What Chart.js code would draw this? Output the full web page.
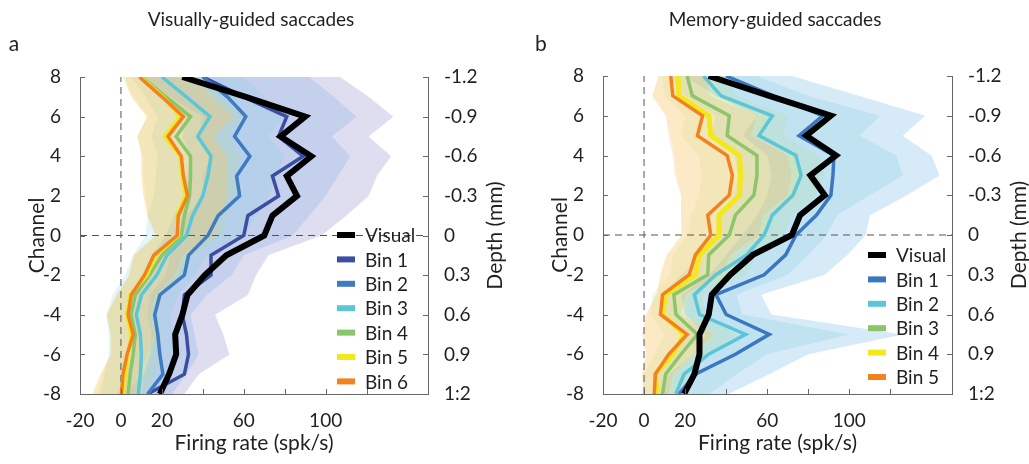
<!DOCTYPE html>
<html>
<head>
  <title>Firing rate by channel</title>
  <script src="https://cdn.jsdelivr.net/npm/chart.js"></script>
  <style>
    body { margin: 0; background: #fff; }
    .row { display: flex; width: 1029px; height: 464px; }
  </style>
</head>
<body>
  <div class="row">
    <canvas id="chartA" width="514" height="464"></canvas>
    <canvas id="chartB" width="515" height="464"></canvas>
  </div>

  <script>
    // channels top to bottom, shared by both panels
    const channels = [8, 7, 6, 5, 4, 3, 2, 1, 0, -1, -2, -3, -4, -5, -6, -7, -8];
    const xTickLabels = [-20, 0, 20, 60, 100, 140];
    const depthLabels = ['-1.2', '-0.9', '-0.6', '-0.3', '0', '0.3', '0.6', '0.9', '1:2'];

    // panel a: visually-guided saccades (spk/s)
    const visualA = [30, 61, 90, 78, 93, 81, 86, 74, 70, 51.5, 41, 32.5, 30, 26.5, 27, 23.5, 19];
    const bin1A = [40, 60, 81, 77, 89, 74, 77, 62, 60, 44, 44, 31, 30, 32, 33, 31, 13];
    const bin2A = [40, 52, 61, 55.5, 63, 56.5, 58, 47.5, 42.5, 33, 31, 19, 16.5, 18, 19, 20.5, 13];
    const bin3A = [20, 32, 43.5, 37.5, 44, 42.5, 40, 35, 32, 22.5, 17.5, 10, 7.5, 9.5, 10, 9.5, 8.5];
    const bin4A = [10, 22, 34, 27, 34, 34, 33.5, 31, 29.5, 20, 14, 7, 5, 7, 6, 4.5, 3.5];
    const bin5A = [9.5, 20.5, 29, 21.5, 29, 30, 31.5, 27.5, 28, 17, 12.5, 4.5, 3, 5, 3.5, 2, 1];
    const bin6A = [9, 20, 30.5, 23, 29.5, 30.5, 32.5, 28, 27.5, 16, 11.5, 5, 3.5, 6, 3, 1, 0.3];

    const bin1ALo = [10, 24, 40, 38, 44, 40, 40, 32, 30, 24, 22, 14, 13, 15, 14, 11, 2];
    const bin1AHi = [107, 121, 133, 121, 132, 125, 121, 110, 98, 72, 66, 62, 46, 50, 53, 38, 31];
    const bin2ALo = [12, 22, 32, 30, 34, 32, 32, 26, 22, 15, 12, 5, 3, 5, 5, 3, -2];
    const bin2AHi = [92, 104, 115, 103, 112, 106, 100, 92, 84, 60, 54, 42, 34, 36, 38, 32, 25];
    const bin3ALo = [5, 12, 18, 15, 18, 17, 16, 13, 12, 6, 2, -4, -7, -6, -6, -8, -10];
    const bin3AHi = [60, 70, 80, 72, 80, 76, 72, 66, 60, 42, 36, 28, 24, 26, 28, 25, 22];
    const bin4ALo = [2, 6, 13, 8, 11, 11, 12, 13, 17, 7, 4, -2, -7, -5, -5, -9, -12];
    const bin4AHi = [42, 50, 60, 52, 58, 58, 56, 52, 50, 35, 30, 20, 18, 20, 19, 16, 14];
    const bin5ALo = [1, 5, 12, 8, 10, 10, 11, 13, 17, 6, 4, -2, -7, -5, -5, -10, -14];
    const bin5AHi = [36, 45, 55, 45, 52, 52, 52, 48, 46, 32, 28, 18, 15, 17, 15, 12, 10];
    const bin6ALo = [1, 5, 13, 8, 10, 10, 11, 13, 17, 6, 4, -2, -7, -5, -5, -10, -14];
    const bin6AHi = [35, 44, 55, 45, 52, 52, 52, 48, 46, 30, 26, 17, 14, 16, 13, 10, 8];

    // panel b: memory-guided saccades (spk/s)
    const visualB = [31.5, 61, 91, 79, 93.5, 81, 88, 76, 72, 53, 42, 33, 31.5, 27, 27, 24.5, 19.5];
    const bin1B = [40, 63, 87, 75.5, 92.5, 92, 91, 84, 74, 69, 58.5, 35, 40, 61, 44.5, 25, 17];
    const bin2B = [29, 37.5, 62.5, 56, 74, 76.5, 72.5, 62.5, 58.5, 50, 35, 24.5, 27, 49.5, 31.5, 19.5, 15.5];
    const bin3B = [21, 23.5, 41.5, 40.5, 55, 55, 53.5, 44.5, 41.5, 31.5, 31, 14.5, 15.5, 26, 18, 10.5, 9];
    const bin4B = [16.5, 17, 31.5, 32.5, 46.5, 47, 46.5, 36.5, 36.5, 27, 25, 10.5, 9, 19.5, 14, 5.5, 6.5];
    const bin5B = [13, 14, 28.5, 26, 40.5, 43, 41.5, 31, 32.5, 25, 22, 9, 8, 21, 12, 5.5, 5];

    const bin1BLo = [20, 35, 55, 48, 60, 62, 60, 55, 48, 40, 32, 18, 20, 30, 24, 12, 8];
    const bin1BHi = [72, 105, 137, 126, 140, 144, 128, 110, 108, 99, 88, 57, 62, 126, 80, 61, 41];
    const bin2BLo = [12, 20, 35, 32, 44, 46, 44, 38, 35, 28, 18, 9, 11, 22, 14, 6, 4];
    const bin2BHi = [55, 80, 115, 105, 123, 126, 110, 94, 89, 80, 70, 45, 48, 100, 60, 45, 32];
    const bin3BLo = [9, 10, 20, 18, 27, 28, 27, 23, 21, 14, 13, 4, 3, 10, 5, 0, -1];
    const bin3BHi = [40, 45, 70, 68, 85, 88, 84, 72, 68, 55, 50, 28, 30, 45, 32, 22, 18];
    const bin4BLo = [7, 4, 11, 13, 15, 16, 18, 18, 18, 11, 8, 6, 1, 0, 1, -1, 0];
    const bin4BHi = [34, 38, 60, 58, 75, 76, 74, 62, 60, 45, 42, 22, 20, 35, 25, 15, 14];
    const bin5BLo = [7, 4, 10.5, 12, 14, 15, 18, 18, 18.5, 11, 8, 6, 1, -1, 1, -1, 0];
    const bin5BHi = [30, 32, 55, 52, 70, 72, 70, 58, 56, 42, 38, 20, 18, 34, 24, 14, 12];

    const FONT = 'Lato, "Open Sans", sans-serif';
    const INK = '#231f20';
    const AXIS = '#666';

    function toPoints(values) {
      return values.map((v, i) => ({ x: v, y: channels[i] }));
    }

    function lineSet(label, values, color, width, order) {
      return {
        label: label, data: toPoints(values), showLine: true,
        borderColor: color, backgroundColor: color, borderWidth: width,
        pointRadius: 0, fill: false, order: order, inLegend: true
      };
    }

    // closed shape: lower edge down the channels, upper edge back up
    function bandSet(lo, hi, color, order) {
      const pts = toPoints(lo).concat(toPoints(hi).reverse());
      return {
        data: pts, showLine: true, fill: 'shape', backgroundColor: color,
        borderColor: 'rgba(0,0,0,0)', borderWidth: 0, pointRadius: 0, order: order
      };
    }

    function refLines() {
      return [
        { data: [{ x: 0, y: -8 }, { x: 0, y: 8 }], showLine: true, borderColor: '#555',
          borderWidth: 1, borderDash: [7, 5], pointRadius: 0, order: 9 },
        { data: [{ x: -20, y: 0 }, { x: 150, y: 0 }], showLine: true, borderColor: '#555',
          borderWidth: 1, borderDash: [7, 5], pointRadius: 0, order: 9 }
      ];
    }

    const decor = {
      id: 'decor',
      afterDraw(chart, args, opts) {
        const ctx = chart.ctx;
        const a = chart.chartArea;
        const sx = chart.scales.x, sy = chart.scales.y;
        ctx.save();
        // inward tick marks
        ctx.strokeStyle = AXIS;
        ctx.lineWidth = 1;
        ctx.beginPath();
        sx.ticks.forEach(t => {
          const p = Math.round(sx.getPixelForValue(t.value)) + 0.5;
          ctx.moveTo(p, a.bottom); ctx.lineTo(p, a.bottom - 5);
        });
        sy.ticks.forEach(t => {
          const p = Math.round(sy.getPixelForValue(t.value)) + 0.5;
          ctx.moveTo(a.left, p); ctx.lineTo(a.left + 5, p);
          ctx.moveTo(a.right, p); ctx.lineTo(a.right - 5, p);
        });
        ctx.stroke();

        ctx.fillStyle = INK;
        ctx.textBaseline = 'middle';
        // panel title and letter
        ctx.textAlign = 'center';
        ctx.font = '19px ' + FONT;
        ctx.fillText(opts.title, opts.titleX, 20);
        ctx.font = '21px ' + FONT;
        ctx.fillText(opts.letter, opts.letterX, 44);
        // axis titles
        ctx.font = '21px ' + FONT;
        ctx.fillText('Firing rate (spk/s)', (a.left + a.right) / 2, 443);
        const midY = (a.top + a.bottom) / 2;
        ctx.save();
        ctx.translate(a.left - 43, midY);
        ctx.rotate(-Math.PI / 2);
        ctx.fillText('Channel', 0, 0);
        ctx.restore();
        ctx.save();
        ctx.translate(a.right + 67, midY);
        ctx.rotate(-Math.PI / 2);
        ctx.fillText('Depth (mm)', 0, 0);
        ctx.restore();

        // legend inside the plot
        ctx.textAlign = 'left';
        ctx.font = '19px ' + FONT;
        let y = opts.legendTop;
        chart.data.datasets.filter(d => d.inLegend).forEach(d => {
          ctx.fillStyle = d.borderColor;
          ctx.fillRect(opts.legendLeft, y - 3, 18, 6);
          ctx.fillStyle = INK;
          ctx.fillText(d.label, opts.legendLeft + 28, y + 1);
          y += 24.4;
        });
        ctx.restore();
      }
    };

    function makePanel(id, datasets, yWidth, y2Width, top, opts) {
      const tickFont = { family: FONT, size: 19 };
      return new Chart(document.getElementById(id), {
        type: 'scatter',
        data: { datasets: datasets },
        options: {
          responsive: false,
          animation: false,
          layout: { padding: { top: top, left: 0, right: 0, bottom: 0 } },
          plugins: { legend: { display: false }, tooltip: { enabled: false }, decor: opts },
          scales: {
            x: {
              type: 'linear', min: -20, max: 150,
              grid: { display: false }, border: { display: true, color: AXIS, width: 1 },
              ticks: {
                stepSize: 20, padding: 7, color: INK, font: tickFont, maxRotation: 0,
                autoSkip: false,
                callback: v => xTickLabels.includes(v) ? String(v) : ''
              },
              afterBuildTicks: s => { s.ticks = s.ticks.filter(t => t.value % 20 === 0); },
              afterFit: s => { s.height = 70; }
            },
            y: {
              type: 'linear', position: 'left', min: -8, max: 8,
              grid: { display: false }, border: { display: true, color: AXIS, width: 1 },
              ticks: { stepSize: 2, padding: 11, color: INK, font: tickFont },
              afterFit: s => { s.width = yWidth; }
            },
            y2: {
              type: 'linear', position: 'right', min: -8, max: 8,
              grid: { display: false }, border: { display: true, color: AXIS, width: 1 },
              ticks: {
                stepSize: 2, padding: 8, color: INK, font: tickFont,
                callback: v => depthLabels[(8 - v) / 2]
              },
              afterFit: s => { s.width = y2Width; }
            }
          }
        },
        plugins: [decor]
      });
    }

    const datasetsA = [
      lineSet('Visual', visualA, '#000000', 6, 0),
      lineSet('Bin 1', bin1A, '#3a4ea2', 3.5, 6),
      lineSet('Bin 2', bin2A, '#3f7bc1', 3.5, 5),
      lineSet('Bin 3', bin3A, '#5cc6d8', 3.5, 4),
      lineSet('Bin 4', bin4A, '#8bc66a', 3.5, 3),
      lineSet('Bin 5', bin5A, '#f2e81c', 4, 2),
      lineSet('Bin 6', bin6A, '#f4811f', 3.5, 1),
      ...refLines(),
      bandSet(bin1ALo, bin1AHi, 'rgba(150,145,210,0.30)', 20),
      bandSet(bin2ALo, bin2AHi, 'rgba(120,165,225,0.25)', 19),
      bandSet(bin3ALo, bin3AHi, 'rgba(120,205,225,0.20)', 18),
      bandSet(bin4ALo, bin4AHi, 'rgba(170,215,130,0.18)', 17),
      bandSet(bin5ALo, bin5AHi, 'rgba(245,235,110,0.20)', 16),
      bandSet(bin6ALo, bin6AHi, 'rgba(245,175,95,0.22)', 15)
    ];

    const datasetsB = [
      lineSet('Visual', visualB, '#000000', 6, 0),
      lineSet('Bin 1', bin1B, '#3b76c3', 3.5, 5),
      lineSet('Bin 2', bin2B, '#5cc6d8', 3.5, 4),
      lineSet('Bin 3', bin3B, '#8bc66a', 3.5, 3),
      lineSet('Bin 4', bin4B, '#f2e81c', 5, 2),
      lineSet('Bin 5', bin5B, '#f4811f', 3.5, 1),
      ...refLines(),
      bandSet(bin1BLo, bin1BHi, 'rgba(120,185,230,0.30)', 20),
      bandSet(bin2BLo, bin2BHi, 'rgba(120,205,225,0.22)', 19),
      bandSet(bin3BLo, bin3BHi, 'rgba(170,215,130,0.18)', 18),
      bandSet(bin4BLo, bin4BHi, 'rgba(245,235,110,0.20)', 17),
      bandSet(bin5BLo, bin5BHi, 'rgba(245,175,95,0.22)', 16)
    ];

    makePanel('chartA', datasetsA, 80, 86, 77, {
      title: 'Visually-guided saccades', titleX: 251, letter: 'a', letterX: 14,
      legendLeft: 337, legendTop: 235
    });
    makePanel('chartB', datasetsB, 89, 77, 76, {
      title: 'Memory-guided saccades', titleX: 261, letter: 'b', letterX: 27,
      legendLeft: 354, legendTop: 255
    });
  </script>
</body>
</html>
